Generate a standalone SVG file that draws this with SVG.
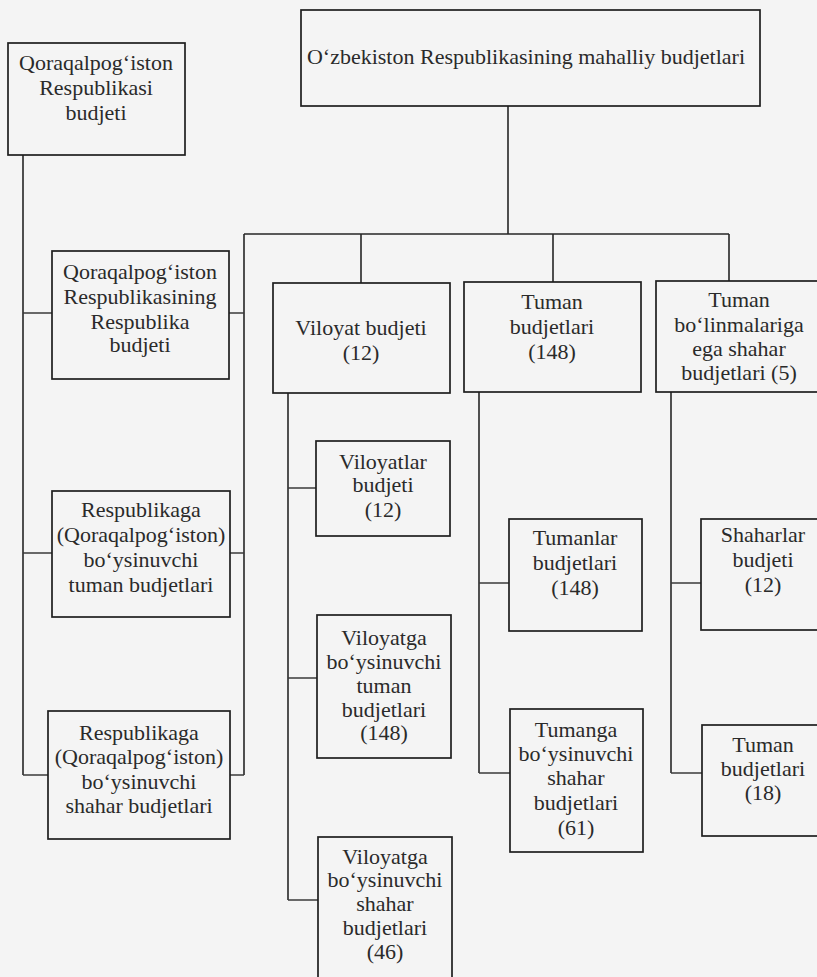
<svg xmlns="http://www.w3.org/2000/svg" width="817" height="977" viewBox="0 0 817 977">
  <style>
    .box { fill: none; stroke: #1e1e1e; stroke-width: 1.7; }
    .lbl { font-family: 'Liberation Serif', 'DejaVu Serif', serif; font-size: 22px; fill: #2a2a2a; text-anchor: middle; }
    .wire { fill: none; stroke: #262626; stroke-width: 1.6; }
    .stub { fill: none; stroke: #3a3a3a; stroke-width: 1.4; }
  </style>
  <rect x="0" y="0" width="817" height="977" fill="#f4f4f4"/>

  <!-- connectors -->
  <g id="connectors">
    <!-- root to main bus -->
    <path class="wire" d="M508,106 V234 M244,234 H729 M361,234 V283 M553,234 V282 M729,234 V281"/>
    <!-- Karakalpakstan column: outer and inner spines -->
    <path class="wire" d="M23,155 V775 M244,234 V775"/>
    <path class="stub" d="M23,313 H52 M229,313 H244 M23,553 H52 M230,553 H244 M23,775 H48 M230,775 H244"/>
    <!-- Viloyat spine -->
    <path class="wire" d="M288,393 V900"/>
    <path class="stub" d="M288,488 H316 M288,678 H317 M288,900 H318"/>
    <!-- Tuman spine -->
    <path class="wire" d="M479,392 V773"/>
    <path class="stub" d="M479,583 H509 M479,773 H510"/>
    <!-- city spine -->
    <path class="wire" d="M671,392 V773"/>
    <path class="stub" d="M671,583 H701 M671,773 H702"/>
  </g>

  <g id="root">
    <rect class="box" x="301" y="10" width="459" height="96"/>
    <text class="lbl" x="526" y="64">O‘zbekiston Respublikasining mahalliy budjetlari</text>
  </g>

  <g id="qq-budget">
    <rect class="box" x="8" y="43" width="177" height="112"/>
    <text class="lbl" x="96" y="70">Qoraqalpog‘iston</text>
    <text class="lbl" x="96" y="95">Respublikasi</text>
    <text class="lbl" x="96" y="120">budjeti</text>
  </g>

  <g id="qq-republic">
    <rect class="box" x="52" y="251" width="177" height="128"/>
    <text class="lbl" x="140" y="279">Qoraqalpog‘iston</text>
    <text class="lbl" x="140" y="304">Respublikasining</text>
    <text class="lbl" x="140" y="329">Respublika</text>
    <text class="lbl" x="140" y="352">budjeti</text>
  </g>

  <g id="qq-districts">
    <rect class="box" x="52" y="491" width="178" height="126"/>
    <text class="lbl" x="141" y="517">Respublikaga</text>
    <text class="lbl" x="141" y="542">(Qoraqalpog‘iston)</text>
    <text class="lbl" x="141" y="567">bo‘ysinuvchi</text>
    <text class="lbl" x="141" y="592">tuman budjetlari</text>
  </g>

  <g id="qq-cities">
    <rect class="box" x="48" y="711" width="182" height="128"/>
    <text class="lbl" x="139" y="740">Respublikaga</text>
    <text class="lbl" x="139" y="764">(Qoraqalpog‘iston)</text>
    <text class="lbl" x="139" y="789">bo‘ysinuvchi</text>
    <text class="lbl" x="139" y="813">shahar budjetlari</text>
  </g>

  <g id="viloyat">
    <rect class="box" x="273" y="283" width="177" height="110"/>
    <text class="lbl" x="361" y="335">Viloyat budjeti</text>
    <text class="lbl" x="361" y="360">(12)</text>
  </g>

  <g id="tuman">
    <rect class="box" x="464" y="282" width="177" height="110"/>
    <text class="lbl" x="552" y="309">Tuman</text>
    <text class="lbl" x="552" y="334">budjetlari</text>
    <text class="lbl" x="552" y="359">(148)</text>
  </g>

  <g id="divided-cities">
    <rect class="box" x="656" y="281" width="170" height="111"/>
    <text class="lbl" x="739" y="307">Tuman</text>
    <text class="lbl" x="739" y="332">bo‘linmalariga</text>
    <text class="lbl" x="739" y="356">ega shahar</text>
    <text class="lbl" x="739" y="380">budjetlari (5)</text>
  </g>

  <g id="viloyatlar">
    <rect class="box" x="316" y="441" width="134" height="95"/>
    <text class="lbl" x="383" y="469">Viloyatlar</text>
    <text class="lbl" x="383" y="492">budjeti</text>
    <text class="lbl" x="383" y="517">(12)</text>
  </g>

  <g id="viloyat-districts">
    <rect class="box" x="317" y="615" width="134" height="143"/>
    <text class="lbl" x="384" y="645">Viloyatga</text>
    <text class="lbl" x="384" y="669">bo‘ysinuvchi</text>
    <text class="lbl" x="384" y="693">tuman</text>
    <text class="lbl" x="384" y="717">budjetlari</text>
    <text class="lbl" x="384" y="740">(148)</text>
  </g>

  <g id="viloyat-cities">
    <rect class="box" x="318" y="837" width="134" height="160"/>
    <text class="lbl" x="385" y="864">Viloyatga</text>
    <text class="lbl" x="385" y="887">bo‘ysinuvchi</text>
    <text class="lbl" x="385" y="911">shahar</text>
    <text class="lbl" x="385" y="935">budjetlari</text>
    <text class="lbl" x="385" y="959">(46)</text>
  </g>

  <g id="tumanlar">
    <rect class="box" x="509" y="519" width="133" height="112"/>
    <text class="lbl" x="575" y="545">Tumanlar</text>
    <text class="lbl" x="575" y="570">budjetlari</text>
    <text class="lbl" x="575" y="595">(148)</text>
  </g>

  <g id="district-cities">
    <rect class="box" x="510" y="709" width="133" height="143"/>
    <text class="lbl" x="576" y="737">Tumanga</text>
    <text class="lbl" x="576" y="761">bo‘ysinuvchi</text>
    <text class="lbl" x="576" y="785">shahar</text>
    <text class="lbl" x="576" y="810">budjetlari</text>
    <text class="lbl" x="576" y="835">(61)</text>
  </g>

  <g id="shaharlar">
    <rect class="box" x="701" y="519" width="125" height="111"/>
    <text class="lbl" x="763" y="542">Shaharlar</text>
    <text class="lbl" x="763" y="567">budjeti</text>
    <text class="lbl" x="763" y="592">(12)</text>
  </g>

  <g id="city-districts">
    <rect class="box" x="702" y="725" width="124" height="111"/>
    <text class="lbl" x="763" y="752">Tuman</text>
    <text class="lbl" x="763" y="776">budjetlari</text>
    <text class="lbl" x="763" y="800">(18)</text>
  </g>
</svg>
